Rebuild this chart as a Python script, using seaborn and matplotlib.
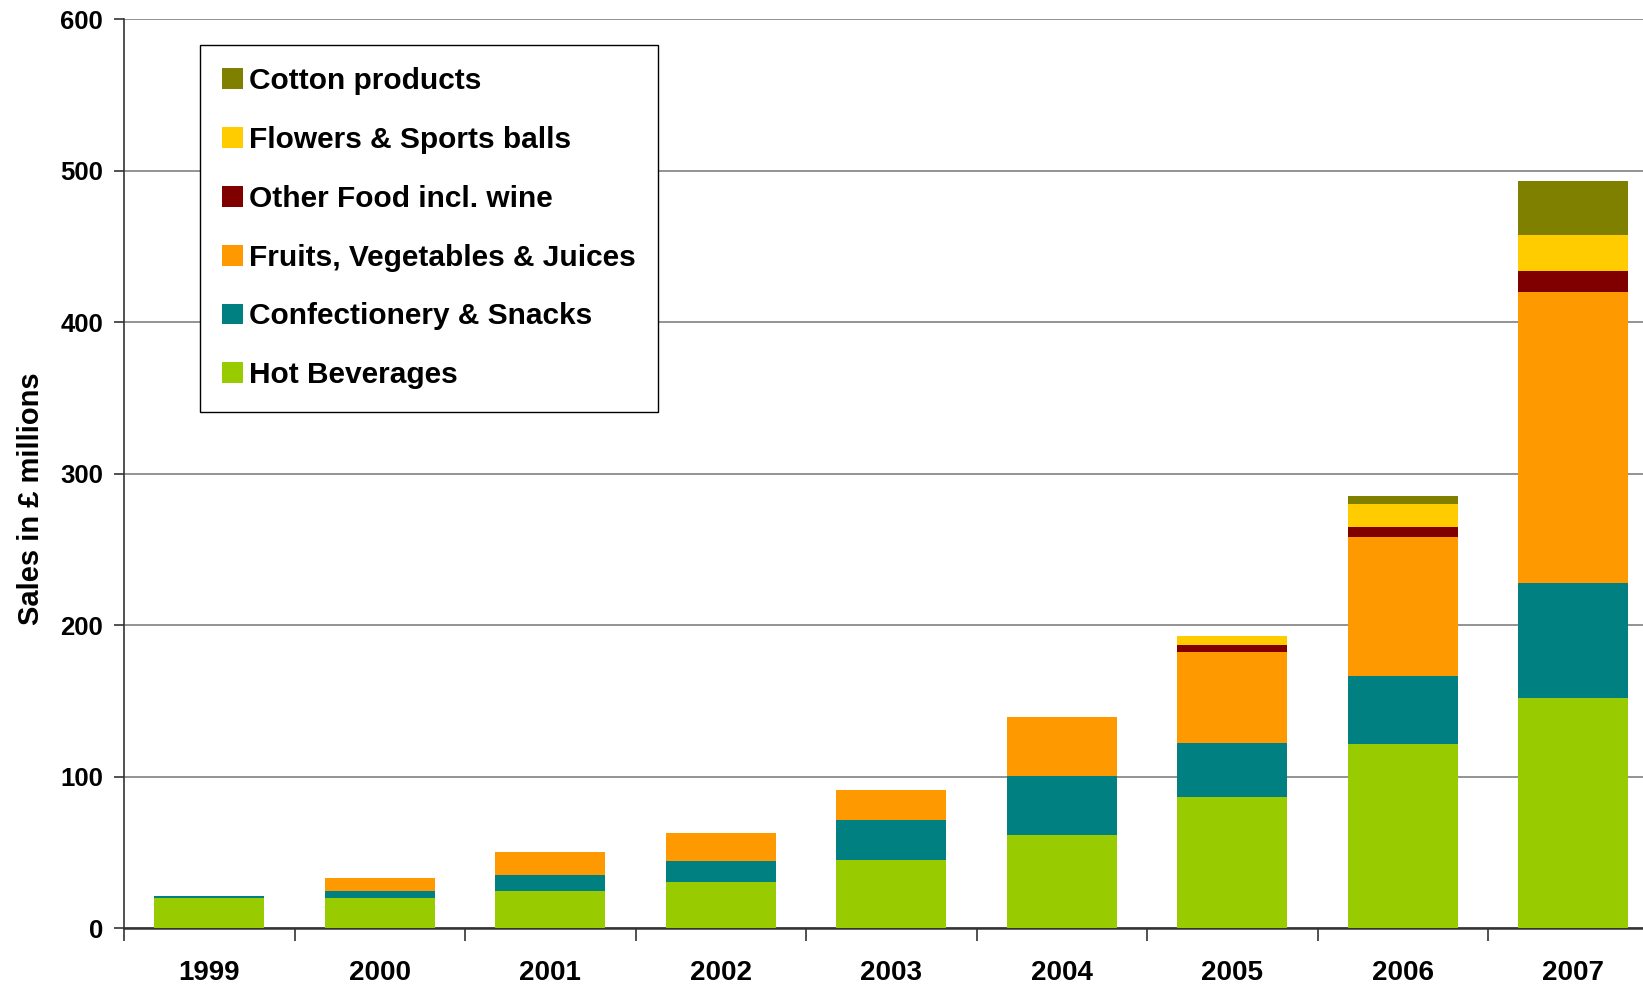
import numpy as np
import pandas as pd
import matplotlib
matplotlib.use("Agg")
import matplotlib.pyplot as plt
import seaborn as sns
from matplotlib.patches import Patch

years = ["1999", "2000", "2001", "2002", "2003", "2004", "2005", "2006", "2007"]
hot_beverages = [20.0, 20.0, 24.6, 30.6, 45.1, 61.6, 86.7, 121.7, 152.0]
confectionery = [1.4, 4.6, 10.6, 13.8, 26.4, 38.9, 35.6, 44.8, 75.7]
fruits_veg = [0.0, 8.6, 15.2, 18.5, 19.8, 39.0, 60.1, 91.8, 192.5]
other_food = [0.0, 0.0, 0.0, 0.0, 0.0, 0.0, 4.6, 6.6, 13.8]
flowers = [0.0, 0.0, 0.0, 0.0, 0.0, 0.0, 6.2, 15.2, 23.7]
cotton = [0.0, 0.0, 0.0, 0.0, 0.0, 0.0, 0.0, 5.2, 35.6]

series_names = ["Hot Beverages", "Confectionery & Snacks", "Fruits, Vegetables & Juices",
                "Other Food incl. wine", "Flowers & Sports balls", "Cotton products"]
series_vals = [hot_beverages, confectionery, fruits_veg, other_food, flowers, cotton]
colors = ["#99CC00", "#008080", "#FF9900", "#800000", "#FFCC00", "#808000"]

sns.set_theme(style="white")
plt.rcParams['font.family'] = ['Liberation Sans', 'DejaVu Sans']
plt.rcParams['font.weight'] = 'bold'
plt.rcParams['text.color'] = 'black'
plt.rcParams['xtick.color'] = 'black'
plt.rcParams['ytick.color'] = 'black'
plt.rcParams['axes.labelcolor'] = 'black'

fig = plt.figure(figsize=(16.43, 9.84), dpi=100)
ax = fig.add_axes([124.0 / 1643, 1 - 928.3 / 984, 1534.5 / 1643, (928.3 - 19.3) / 984])

cum = np.cumsum(np.array(series_vals), axis=0)
for i in range(len(series_names) - 1, -1, -1):
    df = pd.DataFrame({"year": years, "value": cum[i]})
    sns.barplot(data=df, x="year", y="value", color=colors[i], width=0.645,
                saturation=1, ax=ax, zorder=3, linewidth=0)

ax.set_ylim(0, 600)
ax.set_xlim(-0.5, 8.5)
ax.set_yticks(np.arange(0, 601, 100))
ax.yaxis.grid(True, color="#808080", linewidth=1.2, zorder=0)
ax.set_axisbelow(True)

ax.set_xticks(np.arange(-0.5, 9.0, 1.0))
ax.set_xticklabels([])
ax.set_xticks(np.arange(9), minor=True)
ax.set_xticklabels(years, minor=True, fontsize=20, fontweight='bold', color='black')
ax.tick_params(axis='x', which='major', direction='out', length=9, width=1.2, color="#333333", bottom=True)
ax.tick_params(axis='x', which='minor', length=0, pad=23)
ax.tick_params(axis='y', direction='out', length=7, width=1.2, color="#333333", left=True,
               labelsize=18.5, pad=8, labelcolor='black')
for lbl in ax.get_yticklabels():
    lbl.set_fontweight('bold')

for side in ["top", "right"]:
    ax.spines[side].set_visible(False)
ax.spines["left"].set_color("#333333")
ax.spines["left"].set_linewidth(1.2)
ax.spines["bottom"].set_color("#333333")
ax.spines["bottom"].set_linewidth(1.8)

ax.set_xlabel("")
ax.set_ylabel("Sales in £ millions", fontsize=21, fontweight='bold', labelpad=11, color='black')
ax.yaxis.label.set_y(0.4725)

handles = [Patch(facecolor=colors[i], edgecolor='none', label=series_names[i])
           for i in range(len(series_names) - 1, -1, -1)]
leg = ax.legend(handles=handles, loc="upper left", bbox_to_anchor=(200 / 1643, 1 - 45 / 984),
                bbox_transform=fig.transFigure, prop={'size': 21.5, 'weight': 'bold'},
                frameon=True, fancybox=False, edgecolor="black", framealpha=1,
                handlelength=0.7, handleheight=0.7, handletextpad=0.18,
                labelspacing=1.03, borderpad=0.75, borderaxespad=0)
leg.get_frame().set_linewidth(1.0)
for t in leg.get_texts():
    t.set_color('black')
leg.set_zorder(5)

fig.savefig("out.png", dpi=100)
